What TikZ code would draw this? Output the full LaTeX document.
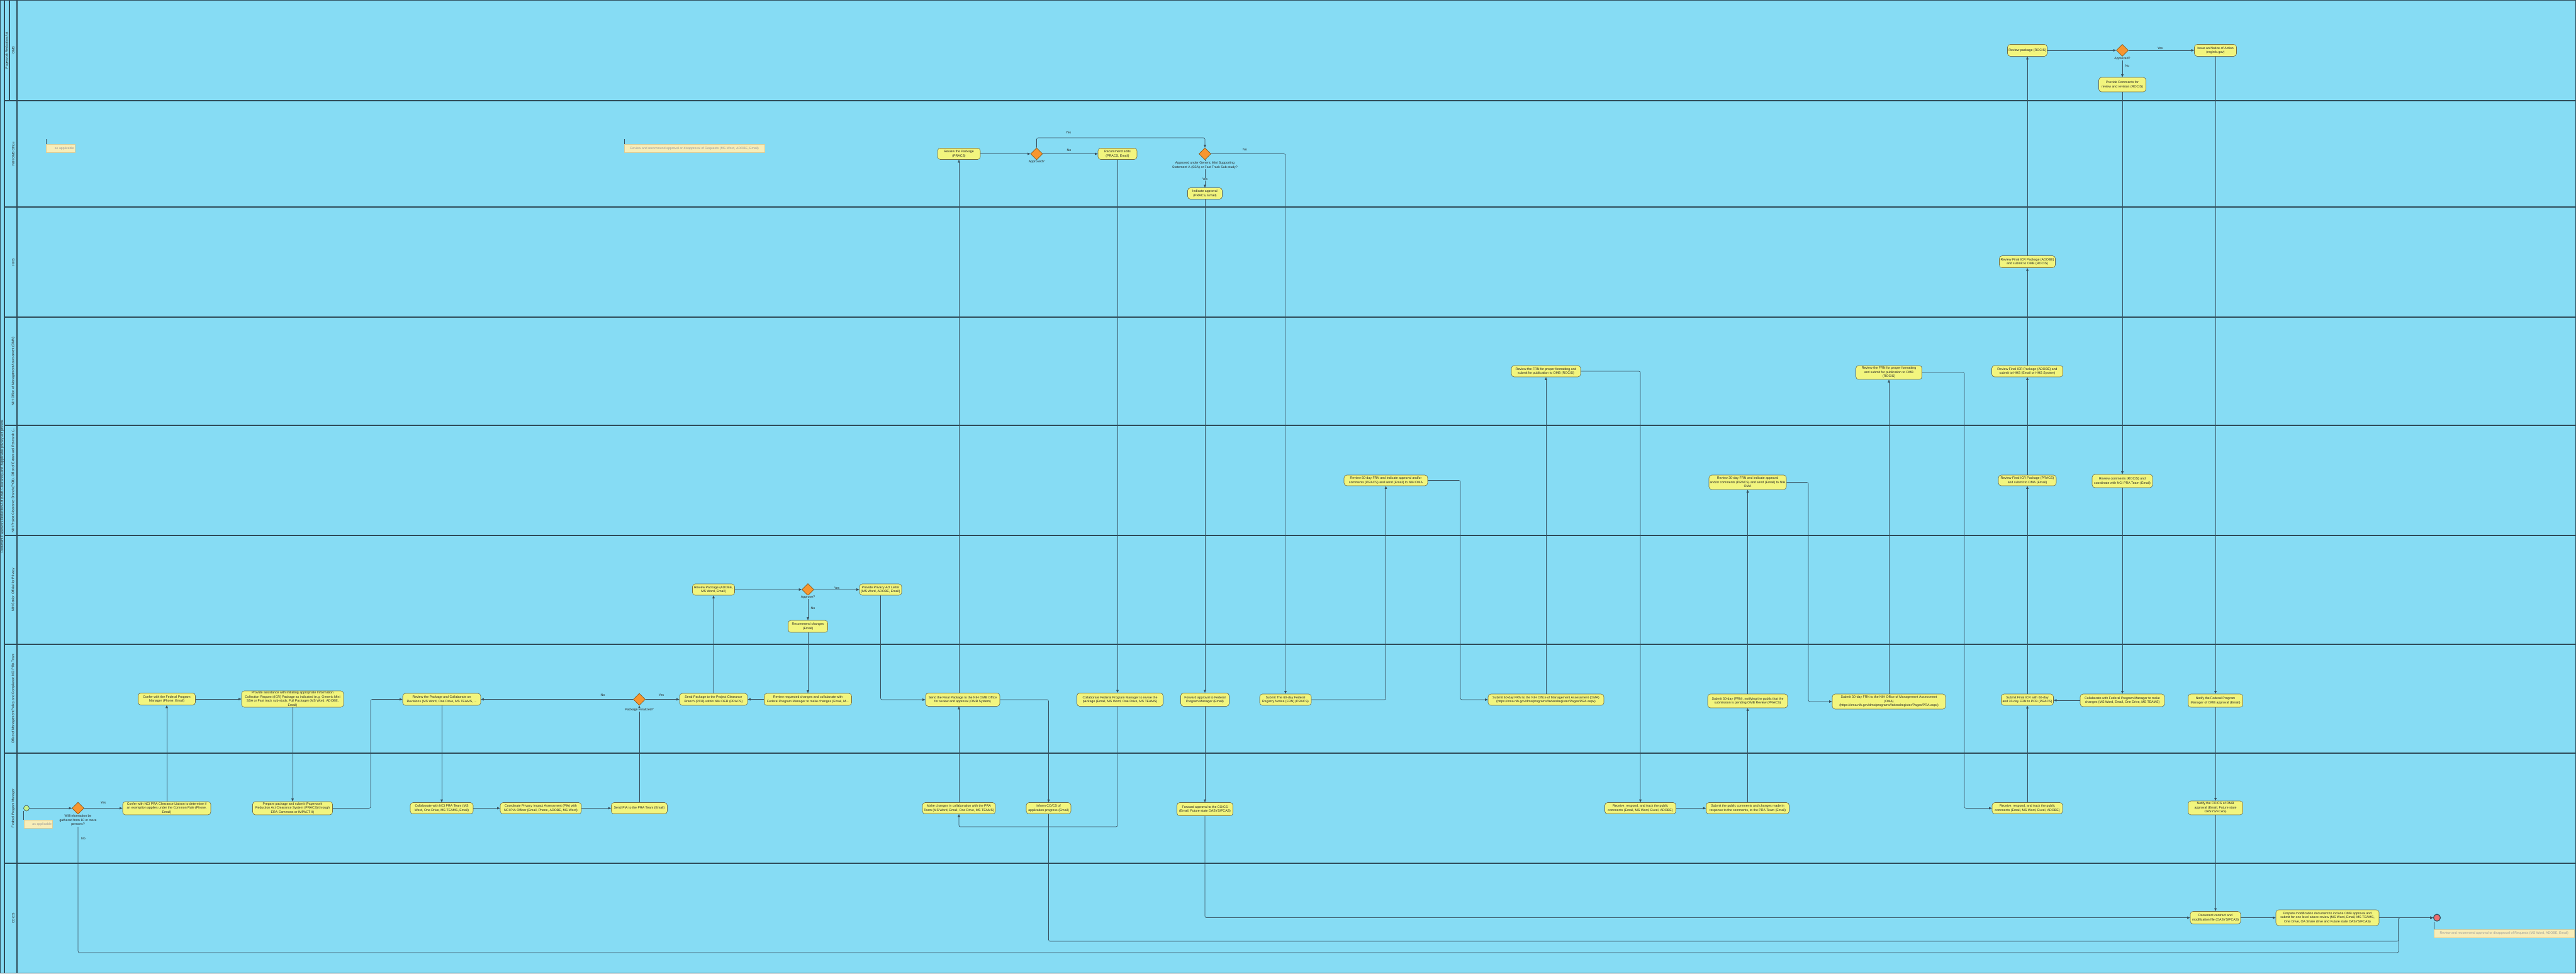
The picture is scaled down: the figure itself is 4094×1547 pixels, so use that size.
\documentclass[tikz,border=0pt]{standalone}
\usepackage{fontspec}
\setmainfont{Liberation Sans}
\usetikzlibrary{arrows.meta,shapes.geometric}
\definecolor{lanebg}{HTML}{86DCF4}
\definecolor{lanel}{HTML}{2E4B58}
\definecolor{taskfill}{HTML}{F2F57E}
\definecolor{taskdraw}{HTML}{6F6C47}
\definecolor{gwfill}{HTML}{F7962F}
\definecolor{gwdraw}{HTML}{8A5A1E}
\definecolor{linec}{HTML}{37505E}
\definecolor{textc}{HTML}{262626}
\definecolor{startfill}{HTML}{C6F08A}
\definecolor{endfill}{HTML}{EE6E6E}
\definecolor{annfill}{HTML}{F8EDB8}
\definecolor{anndraw}{HTML}{D8CC98}
\definecolor{anntext}{HTML}{9A9A9A}
\newcommand\tf{\fontsize{3.7}{4.6}\selectfont}
\begin{document}
\begin{tikzpicture}[x=0.25mm,y=-0.25mm,
  task/.style={draw=taskdraw, fill=taskfill, rounded corners=1.1mm, align=center, font=\tf, text=textc, inner sep=0pt, line width=0.45pt},
  tk/.style 2 args={task, minimum width=#1*0.25mm, minimum height=#2*0.25mm},
  gw/.style={diamond, draw=gwdraw, fill=gwfill, minimum size=19*0.25mm, inner sep=0pt, line width=0.45pt},
  flow/.style={draw=linec, line width=0.45pt, -{Triangle[length=3.2pt,width=2.6pt]}, rounded corners=0.6mm},
  lbl/.style={font=\tf, text=textc, inner sep=0.4pt},
  gwl/.style={font=\tf, text=textc, align=center, fill=lanebg, inner sep=0.6pt},
  lanelbl/.style={font=\tf, text=textc, rotate=90},
  ann/.style={draw=anndraw, fill=annfill, font=\tf, text=anntext, inner sep=0pt}
]
\useasboundingbox (0,0) rectangle (4094,1547);
\fill[lanebg] (0,0) rectangle (4094,1547);
% lanes
\foreach \yy in {160,329,504,676,851,1024,1197,1372}
  \draw[lanel, line width=0.8pt] (7,\yy) -- (4094,\yy);
\draw[lanel, line width=0.8pt] (7,0) -- (7,1547);
\draw[lanel, line width=0.8pt] (15,0) -- (15,160);
\draw[lanel, line width=0.8pt] (27,0) -- (27,1547);
\draw[lanel, line width=1pt] (0.5,0.5) rectangle (4093.5,1546.5);
\node[lanelbl] (pool) at (3.6,773) {Document Paperwork Reduction Act (OMB Clearance) and if applicable privacy act process};
\node[lanelbl] (grp) at (11,80) {Paperwork Reduction Act};
\node[lanelbl] (l1) at (21,80) {OMB};
\node[lanelbl] (l2) at (21,244.5) {NIH OMB Office};
\node[lanelbl] (l3) at (21,416.5) {HHS};
\node[lanelbl] (l4) at (21,590) {NIH Office of Management Assessment (OMA)};
\node[lanelbl] (l5) at (21,763.5) {NIH Project Clearance Branch (PCB), Office of Extramural Research (...};
\node[lanelbl] (l6) at (21,937.5) {NIH Senior Official for Privacy};
\node[lanelbl] (l7) at (21,1110.5) {Office of Management Policy and Compliance NCI PRA Team};
\node[lanelbl] (l8) at (21,1284.5) {Federal Program Manager};
\node[lanelbl] (l9) at (21,1459.5) {CO/CS};

% events and gateways
\node[circle, draw=linec, fill=startfill, minimum size=9*0.25mm, inner sep=0pt, line width=0.45pt] (st) at (42,1284.5) {};
\node[gw] (g1) at (124,1284.5) {};
\node[gw] (g2) at (1016,1111.5) {};
\node[gw] (g3) at (1284,937) {};
\node[gw] (g4) at (1647.5,244.5) {};
\node[gw] (g5) at (1915,244.5) {};
\node[gw] (g6) at (3373,80) {};
\node[circle, draw=linec, fill=endfill, minimum size=11*0.25mm, inner sep=0pt, line width=0.9pt] (end) at (3873,1458.5) {};

% tasks
\node[tk={91}{19}] (t1) at (265,1111) {Confer with the Federal Program\\Manager (Phone, Email)};
\node[tk={162}{26}] (t2) at (465,1111) {Provide assistance with initiating appropriate Information\\Collection Request (ICR) Package as indicated (e.g. Generic Mini\\SSA or Fast track sub-study, Full Package) (MS Word, ADOBE,\\Email)};
\node[tk={140}{21}] (t3) at (265,1284.5) {Confer with NCI PRA Clearance Liaison to determine if\\an exemption applies under the Common Rule (Phone,\\Email)};
\node[tk={127}{21}] (t4) at (465,1284.5) {Prepare package and submit (Paperwork\\Reduction Act Clearance System (PRACS) through\\ERA Commons or IMPACT II)};
\node[tk={124}{19}] (t5) at (702,1111.5) {Review the Package and Collaborate on\\Revisions (MS Word, One Drive, MS TEAMS, ...};
\node[tk={100}{18}] (t6) at (702,1284.5) {Collaborate with NCI PRA Team (MS\\Word, One Drive, MS TEAMS, Email)};
\node[tk={129}{18}] (t7) at (859.5,1284.5) {Coordinate Privacy Impact Assessment (PIA) with\\NCI PIA Officer (Email, Phone, ADOBE, MS Word)};
\node[tk={89}{18}] (t8) at (1016,1284.5) {Send PIA to the PRA Team (Email)};
\node[tk={108}{19}] (t9) at (1134,1111.5) {Send Package to the Project Clearance\\Branch (PCB) within NIH OER (PRACS)};
\node[tk={139}{19}] (t10) at (1284,1111.5) {Review requested changes and collaborate with\\Federal Program Manager to make changes (Email, M...};
\node[tk={67}{18}] (t11) at (1134,937) {Review Package (ADOBE,\\MS Word, Email)};
\node[tk={67}{18}] (t12) at (1399.5,937) {Provide Privacy Act Letter\\(MS Word, ADOBE, Email)};
\node[tk={63}{19}] (t13) at (1284,995.5) {Recommend changes\\(Email)};
\node[tk={118}{21}] (t14) at (1530,1112) {Send the Final Package to the NIH OMB Office\\for review and approval (OMB System)};
\node[tk={116}{18}] (t15) at (1524,1284.5) {Make changes in collaboration with the PRA\\Team (MS Word, Email, One Drive, MS TEAMS)};
\node[tk={71}{18}] (t16) at (1666.5,1284.5) {Inform CO/CS of\\application progress (Email)};
\node[tk={137}{21}] (t17) at (1780,1112) {Collaborate Federal Program Manager to revise the\\package (Email, MS Word, One Drive, MS TEAMS)};
\node[tk={77}{21}] (t18) at (1915,1112) {Forward approval to Federal\\Program Manager (Email)};
\node[tk={89}{21}] (t19) at (1915,1286) {Forward approval to the CO/CS\\(Email, Future state OASYS/FCAS)};
\node[tk={82}{18}] (t20) at (2043,1112) {Submit The 60-day Federal\\Registry Notice (FRN) (PRACS)};
\node[tk={68}{18}] (t21) at (1524,244.5) {Review the Package\\(PRACS)};
\node[tk={62}{18}] (t22) at (1776,244.5) {Recommend edits\\(PRACS, Email)};
\node[tk={55}{18}] (t23) at (1915,307.5) {Indicate approval\\(PRACS, Email)};
\node[tk={133}{17}] (t24) at (2202.5,763.5) {Review 60-day FRN and indicate approval and/or\\comments (PRACS) and send (Email) to NIH OMA};
\node[tk={184}{18}] (t25) at (2457,1112) {Submit 60-day FRN to the NIH Office of Management Assessment (OMA)\\(https://oma.nih.gov/dms/programs/federalregister/Pages/PRA.aspx)};
\node[tk={110}{18}] (t26) at (2457,590) {Review the FRN for proper formatting and\\submit for publication to OMB (ROCIS)};
\node[tk={113}{18}] (t27) at (2607,1284.5) {Receive, respond, and track the public\\comments (Email, MS Word, Excel, ADOBE)};
\node[tk={132}{18}] (t28) at (2777.5,1284.5) {Submit the public comments and changes made in\\response to the comments, to the PRA Team (Email)};
\node[tk={127}{22}] (t29) at (2777.5,1114) {Submit 30-day (FRN), notifying the public that the\\submission is pending OMB Review (PRACS)};
\node[tk={123}{23}] (t30) at (2777.5,766.5) {Review 30-day FRN and indicate approval\\and/or comments (PRACS) and send (Email) to NIH\\OMA};
\node[tk={180}{24}] (t31) at (3002,1115) {Submit 30-day FRN to the NIH Office of Management Assessment\\(OMA)\\(https://oma.nih.gov/dms/programs/federalregister/Pages/PRA.aspx)};
\node[tk={105}{22}] (t32) at (3002,592) {Review the FRN for proper formatting\\and submit for publication to OMB\\(ROCIS)};
\node[tk={112}{18}] (t33) at (3222,1284.5) {Receive, respond, and track the public\\comments (Email, MS Word, Excel, ADOBE)};
\node[tk={83}{18}] (t34) at (3222,1112) {Submit Final ICR with 60-day\\and 30-day FRN to PCB (PRACS)};
\node[tk={92}{17}] (t35) at (3222,763.5) {Review Final ICR Package (PRACS)\\and submit to OMA (Email)};
\node[tk={113}{18}] (t36) at (3222,590) {Review Final ICR Package (ADOBE) and\\submit to HHS (Email or HHS System)};
\node[tk={89}{19}] (t37) at (3222,416) {Review Final ICR Package (ADOBE)\\and submit to OMB (ROCIS)};
\node[tk={63}{19}] (t38) at (3222,80) {Review package (ROCIS)};
\node[tk={67}{19}] (t39) at (3521,80) {Issue an Notice of Action\\(reginfo.gov)};
\node[tk={75}{23}] (t40) at (3373,134.5) {Provide Comments for\\review and revision (ROCIS)};
\node[tk={96}{21}] (t41) at (3373,764.5) {Review comments (ROCIS) and\\coordinate with NCI PRA Team (Email)};
\node[tk={134}{20}] (t42) at (3373,1113) {Collaborate with Federal Program Manager to make\\changes (MS Word, Email, One Drive, MS TEAMS)};
\node[tk={87}{21}] (t43) at (3521,1113.5) {Notify the Federal Program\\Manager of OMB approval (Email)};
\node[tk={87}{22}] (t44) at (3521,1284) {Notify the CO/CS of OMB\\approval (Email, Future state\\OASYS/FCAS)};
\node[tk={80}{20}] (t45) at (3521,1458.5) {Document contract and\\modification file (OASYS/FCAS)};
\node[tk={164}{25}] (t46) at (3699,1458.5) {Prepare modification document to include OMB approval and\\submit for one level above review (MS Word, Email, MS TEAMS,\\One Drive, OA Share drive and Future state OASYS/FCAS)};

% annotations
\node[ann, minimum width=45.5*0.25mm, minimum height=13*0.25mm, anchor=north west, align=right, text width=43*0.25mm] (a1) at (37.5,1303) {as applicable};
\node[ann, minimum width=223*0.25mm, minimum height=13*0.25mm, anchor=north west] (a2) at (3868,1476.5) {Review and recommend approval or disapproval of Requests (MS Word, ADOBE, Email)};
\node[ann, minimum width=45.5*0.25mm, minimum height=13*0.25mm, anchor=north west, align=right, text width=43*0.25mm] (a3) at (73,229) {as applicable};
\node[ann, minimum width=223*0.25mm, minimum height=13*0.25mm, anchor=north west] (a4) at (992,229) {Review and recommend approval or disapproval of Requests (MS Word, ADOBE, Email)};
\draw[linec, line width=0.4pt] (a1.north west) -- (a1.north west |- st.south);
\draw[linec, line width=0.4pt] (a2.north west) -- (a2.north west |- end.south);
\draw[linec, line width=0.4pt] (a3.north west) -- ++(0,-8);
\draw[linec, line width=0.4pt] (a4.north west) -- ++(0,-8);

% coordinates for bends
\coordinate (c1) at (2321,1112);
\coordinate (c2) at (2874,1115);
\coordinate (c3) at (3122,1284.5);
\coordinate (c4) at (3812,1496);
\coordinate (c5) at (3812,1514);
\coordinate (c6) at (589,1111.5);
\coordinate (c7) at (1524,1314);
\coordinate (c8) at (1915,219);

% connectors
\draw[flow] (st.east) -- (g1.west);
\draw[flow] (g1.east) -- (t3.west);
\draw[flow] (t3.north) -- (t3.north |- t1.south);
\draw[flow] (t1.east) -- (t1.east -| t2.west);
\draw[flow] (t2.south) -- (t2.south |- t4.north);
\draw[flow] (t4.east) -| (c6) -- (t5.west);
\draw[flow] (t5.south) -- (t5.south |- t6.north);
\draw[flow] (t6.east) -- (t7.west);
\draw[flow] (t7.east) -- (t8.west);
\draw[flow] (t8.north) -- (t8.north |- g2.south);
\draw[flow] (g2.west) -- (g2.west -| t5.east);
\draw[flow] (g2.east) -- (g2.east -| t9.west);
\draw[flow] (t9.north) -- (t9.north |- t11.south);
\draw[flow] (t11.east) -- (t11.east -| g3.west);
\draw[flow] (g3.east) -- (g3.east -| t12.west);
\draw[flow] (g3.south) -- (g3.south |- t13.north);
\draw[flow] (t13.south) -- (t13.south |- t10.north);
\draw[flow] (t10.west) -- (t10.west -| t9.east);
\draw[flow] (t12.south) |- (t14.west);
\draw[flow] (t14.north -| t21.south) -- (t21.south);
\draw[flow] (t14.east) -| (t16.north);
\draw[flow] (t15.north) -- (t15.north |- t14.south);
\draw[flow] (t21.east) -- (t21.east -| g4.west);
\draw[flow] (g4.east) -- (g4.east -| t22.west);
\draw[flow] (g4.north) |- (c8) -- (g5.north);
\draw[flow] (g5.south) -- (g5.south |- t23.north);
\draw[flow] (g5.east) -| (t20.north);
\draw[flow] (t22.south) -- (t22.south |- t17.north);
\draw[flow] (t22.south |- t17.south) |- (c7) -- (t15.south);
\draw[flow] (t23.south) -- (t23.south |- t18.north);
\draw[flow] (t18.south) -- (t18.south |- t19.north);
\draw[flow] (t19.south) |- (t45.west);
\draw[flow] (t20.east) -| (t24.south);
\draw[flow] (t24.east) -| (c1) -- (t25.west);
\draw[flow] (t25.north) -- (t25.north |- t26.south);
\draw[flow] (t26.east) -| (t27.north);
\draw[flow] (t27.east) -- (t28.west);
\draw[flow] (t28.north) -- (t28.north |- t29.south);
\draw[flow] (t29.north) -- (t29.north |- t30.south);
\draw[flow] (t30.east) -| (c2) -- (t31.west);
\draw[flow] (t31.north) -- (t31.north |- t32.south);
\draw[flow] (t32.east) -| (c3) -- (t33.west);
\draw[flow] (t33.north) -- (t33.north |- t34.south);
\draw[flow] (t42.west) -- (t42.west -| t34.east);
\draw[flow] (t34.north) -- (t34.north |- t35.south);
\draw[flow] (t35.north) -- (t35.north |- t36.south);
\draw[flow] (t36.north) -- (t36.north |- t37.south);
\draw[flow] (t37.north) -- (t37.north |- t38.south);
\draw[flow] (t38.east) -- (t38.east -| g6.west);
\draw[flow] (g6.east) -- (g6.east -| t39.west);
\draw[flow] (g6.south) -- (g6.south |- t40.north);
\draw[flow] (t40.south) -- (t40.south |- t41.north);
\draw[flow] (t41.south) -- (t41.south |- t42.north);
\draw[flow] (t39.south) -- (t39.south |- t43.north);
\draw[flow] (t43.south) -- (t43.south |- t44.north);
\draw[flow] (t44.south) -- (t44.south |- t45.north);
\draw[flow] (t45.east) -- (t46.west);
\draw[flow] (t46.east) -- (end.west);
\draw[flow] (t16.south) |- (c4) |- (end.west);
\draw[flow] (g1.south) |- (c5) |- (end.west);

% gateway labels
\node[gwl] (g1l) at (124,1304) {Will information be\\gathered from 10 or more\\persons?};
\node[gwl] (g2l) at (1016,1128) {Package Finalized?};
\node[gwl] (g3l) at (1284,949) {Approve?};
\node[gwl] (g4l) at (1647.5,257) {Approved?};
\node[gwl] (g5l) at (1915,262.5) {Approved under Generic Mini Supporting\\Statement A (SSA) or Fast Track Sub-study?};
\node[gwl] (g6l) at (3373,93) {Approved?};

% flow labels
\node[lbl] at (164,1276) {Yes};
\node[lbl] at (132.5,1333) {No};
\node[lbl] at (958,1105) {No};
\node[lbl] at (1051,1105) {Yes};
\node[lbl, fill=lanebg] at (1330,935) {Yes};
\node[lbl] at (1292,967) {No};
\node[lbl] at (1698,211) {Yes};
\node[lbl] at (1699,239) {No};
\node[lbl] at (1978.5,238) {No};
\node[lbl, fill=lanebg] at (1915,285) {Yes};
\node[lbl] at (3433,77) {Yes};
\node[lbl] at (3381,105) {No};
\end{tikzpicture}
\end{document}
